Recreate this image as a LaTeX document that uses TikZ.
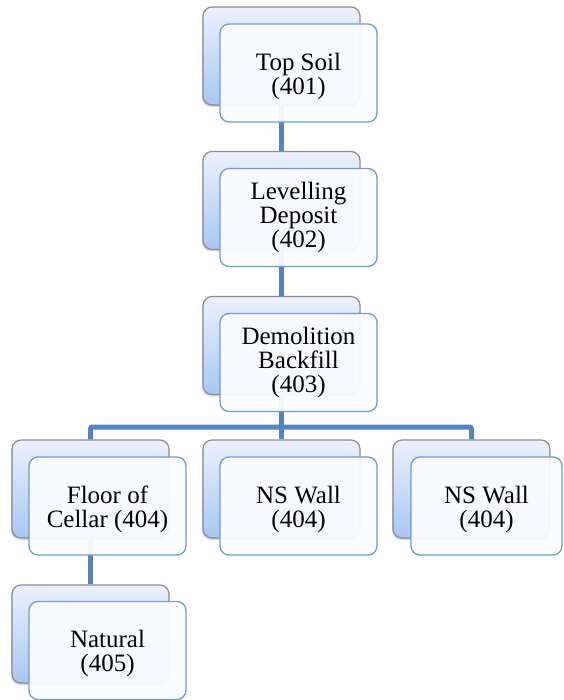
\documentclass[tikz,border=0pt]{standalone}
\usepackage{fontspec}
\setmainfont{Liberation Serif}
\usetikzlibrary{shadows,backgrounds}
\definecolor{conn}{RGB}{84,132,190}
\definecolor{backtop}{RGB}{236,241,251}
\definecolor{backbot}{RGB}{168,198,245}
\definecolor{backedge}{RGB}{140,140,140}
\definecolor{frontfill}{RGB}{251,252,255}
\definecolor{frontedge}{RGB}{108,156,210}
\begin{document}
\begin{tikzpicture}[x=1pt,y=-1pt,
  backbox/.style={rectangle, rounded corners=9pt, draw=backedge, line width=1.2pt,
    top color=backtop, bottom color=backbot, minimum width=157pt, minimum height=98pt,
    inner sep=0pt, drop shadow={shadow xshift=-1pt, shadow yshift=-2pt, opacity=0.3}},
  frontbox/.style={rectangle, rounded corners=9pt, draw=frontedge, line width=1.3pt,
    fill=frontfill, fill opacity=0.94, minimum width=157pt,
    minimum height=98pt, inner sep=0pt},
  boxtext/.style={inner sep=0pt, align=center, font=\fontsize{25}{24}\selectfont},
  link/.style={draw=conn, line width=5pt}]
\useasboundingbox (0,0) rectangle (563,700);
% row 1
\node[backbox] (b1) at (281.5,56) {};
\node[frontbox] (f1) at (298.5,73) {};
\node[boxtext] (t1) at ([yshift=-3pt]f1.center) {Top Soil\\(401)};
% row 2
\node[backbox] (b2) at (281.5,200.5) {};
\node[frontbox] (f2) at (298.5,217.5) {};
\node[boxtext] (t2) at (f2.center) {Levelling\\Deposit\\(402)};
% row 3
\node[backbox] (b3) at (281.5,345.5) {};
\node[frontbox] (f3) at (298.5,362.5) {};
\node[boxtext] (t3) at (f3.center) {Demolition\\Backfill\\(403)};
% row 4
\node[backbox] (b4) at (90.5,489) {};
\node[frontbox] (f4) at (107.5,506) {};
\node[boxtext] (t4) at ([yshift=-3pt]f4.center) {Floor of\\Cellar (404)};
\node[backbox] (b5) at (281.5,489) {};
\node[frontbox] (f5) at (298.5,506) {};
\node[boxtext] (t5) at ([yshift=-3pt]f5.center) {NS Wall\\(404)};
\node[backbox] (b6) at (471.5,489) {};
\node[frontbox, minimum width=151pt] (f6) at (486.5,506) {};
\node[boxtext] (t6) at ([yshift=-3pt]f6.center) {NS Wall\\(404)};
% row 5
\node[backbox] (b7) at (90.5,634) {};
\node[frontbox] (f7) at (107.5,650.5) {};
\node[boxtext] (t7) at ([yshift=-3pt]f7.center) {Natural\\(405)};
\coordinate (j) at (281.5,427);
\begin{scope}[on background layer]
\draw[link] (b1.south) -- (b2.north);
\draw[link] (b2.south) -- (b3.north);
\draw[link] (b3.south) -- (j);
\draw[link, rounded corners=2pt] (b4.north) |- (j) -| (b6.north);
\draw[link] (j) -- (b5.north);
\draw[link] (b4.south) -- (b7.north);
\end{scope}
\end{tikzpicture}
\end{document}
